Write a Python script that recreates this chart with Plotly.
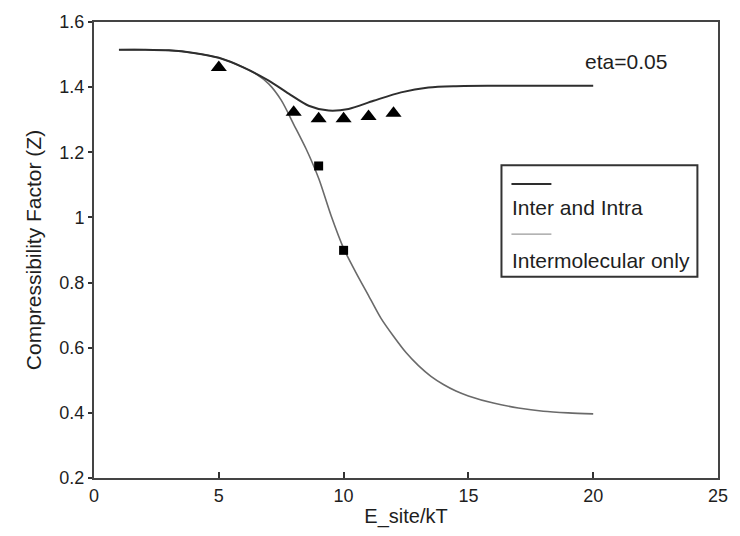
import plotly.graph_objects as go

# Curves
upper_x = [1, 2, 3, 4, 5, 6, 7, 7.8, 8.6, 9.4, 10.2, 11.2, 12.3, 13.4, 14.5, 16, 18, 20]
upper_y = [1.515, 1.515, 1.513, 1.505, 1.49, 1.46, 1.42, 1.38, 1.343, 1.328, 1.333, 1.358, 1.384, 1.399, 1.403, 1.404, 1.404, 1.404]
lower_x = [1, 2, 3, 4, 5, 6, 6.5, 7, 7.5, 8, 8.5, 9, 9.5, 10, 10.5, 11, 11.5, 12, 12.5, 13, 13.5, 14, 14.5,
           15, 16, 17, 18, 19, 20]
lower_y = [1.515, 1.515, 1.513, 1.505, 1.49, 1.46, 1.44, 1.41, 1.36, 1.286, 1.21, 1.12, 1.005, 0.905, 0.83, 0.76,
           0.69, 0.635, 0.585, 0.545, 0.512, 0.487, 0.467, 0.452, 0.43, 0.415, 0.405, 0.4, 0.397]
# Simulation points
tri_x = [5, 8, 9, 10, 11, 12]
tri_y = [1.46, 1.323, 1.303, 1.303, 1.31, 1.32]
sq_x = [9, 10]
sq_y = [1.158, 0.899]

x_ticks = [0, 5, 10, 15, 20, 25]
y_ticks = [0.2, 0.4, 0.6, 0.8, 1, 1.2, 1.4, 1.6]
y_labels = ["0.2", "0.4", "0.6", "0.8", "1", "1.2", "1.4", "1.6"]
legend_names = ["Inter and Intra", "Intermolecular only"]

FONT = "Liberation Sans, Arial, sans-serif"
TXT = "#1e1e1e"

fig = go.Figure()
fig.add_trace(go.Scatter(x=lower_x, y=lower_y, mode="lines",
                         line=dict(color="#6a6a6a", width=1.6, shape="spline", smoothing=0.8),
                         name=legend_names[1]))
fig.add_trace(go.Scatter(x=upper_x, y=upper_y, mode="lines",
                         line=dict(color="#2e2e2e", width=2, shape="spline", smoothing=0.8),
                         name=legend_names[0]))
fig.add_trace(go.Scatter(x=tri_x, y=tri_y, mode="markers",
                         marker=dict(symbol="triangle-up", size=14, color="black"), name="tri"))
fig.add_trace(go.Scatter(x=sq_x, y=sq_y, mode="markers",
                         marker=dict(symbol="square", size=9, color="black"), name="sq"))

fig.update_layout(
    width=740, height=536,
    margin=dict(l=94, r=17, t=17, b=57),
    paper_bgcolor="white", plot_bgcolor="white",
    showlegend=False,
    font=dict(family=FONT, color=TXT, size=18),
    xaxis=dict(range=[0, 25], tickvals=x_ticks, ticks="inside", ticklen=6, tickwidth=1.5, tickcolor="#333",
               showgrid=False, zeroline=False, showline=True, linecolor="#444", linewidth=2, mirror=True,
               title=dict(text="E_site/kT", font=dict(size=20), standoff=4),
               tickfont=dict(size=18)),
    yaxis=dict(range=[0.2, 1.6], tickvals=y_ticks, ticktext=y_labels, ticks="outside", ticklen=4, tickwidth=1.5,
               tickcolor="#333", showgrid=False, zeroline=False, showline=True, linecolor="#444", linewidth=2,
               mirror=True, title=dict(text="Compressibility Factor (Z)", font=dict(size=21), standoff=12),
               tickfont=dict(size=18)),
)

# Custom legend box
fig.add_shape(type="rect", xref="paper", yref="paper", x0=0.653, x1=0.967, y0=0.4416, y1=0.686,
              line=dict(color="#333", width=2), fillcolor="white", layer="above")
fig.add_shape(type="line", xref="paper", yref="paper", x0=0.669, x1=0.733, y0=0.645, y1=0.645,
              line=dict(color="#2e2e2e", width=2))
fig.add_shape(type="line", xref="paper", yref="paper", x0=0.669, x1=0.733, y0=0.5346, y1=0.5346,
              line=dict(color="#9a9a9a", width=1.2))
fig.add_annotation(xref="paper", yref="paper", x=0.667, y=0.593, text=legend_names[0], showarrow=False,
                   xanchor="left", yanchor="middle", font=dict(size=21, color=TXT))
fig.add_annotation(xref="paper", yref="paper", x=0.667, y=0.478, text=legend_names[1], showarrow=False,
                   xanchor="left", yanchor="middle", font=dict(size=21, color=TXT))
fig.add_annotation(xref="paper", yref="paper", x=0.852, y=0.913, text="eta=0.05", showarrow=False,
                   xanchor="center", yanchor="middle", font=dict(size=21, color=TXT))

fig.write_html("out.html")
